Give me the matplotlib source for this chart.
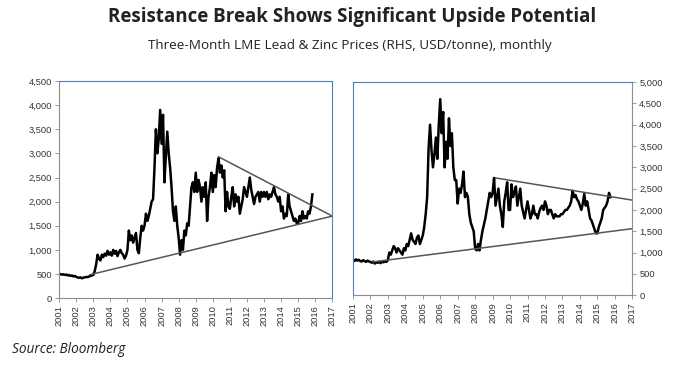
import numpy as np
import matplotlib.pyplot as plt

# monthly values, Jan 2001 onwards (chart x coordinates)
lead = [
    490, 500, 485, 495, 480, 490, 470, 480, 460, 470, 450, 460,          # 2001
    440, 430, 420, 430, 410, 425, 430, 440, 435, 450, 460, 470,          # 2002
    480, 560, 700, 900, 820, 780, 900, 850, 920, 880, 980, 900,          # 2003
    950, 880, 1000, 920, 980, 870, 950, 1000, 930, 900, 820, 880,        # 2004
    1000, 1400, 1200, 1300, 1150, 1250, 1350, 1000, 930, 1250, 1500, 1400,  # 2005
    1500, 1750, 1600, 1700, 1850, 2000, 2050, 2700, 3500, 3000, 3300, 3900,  # 2006
    3200, 3800, 2400, 2950, 3450, 3000, 2700, 2300, 1800, 1600, 1900, 1500,  # 2007
    1250, 900, 1200, 1000, 1400, 1300, 1550, 1500, 1900, 2300, 2400, 2200,   # 2008
    2600, 2200, 2450, 2300, 2000, 2300, 2100, 2400, 1600, 2100, 2300, 2600,  # 2009
    2200, 2550, 2300, 2700, 2900, 2600, 2750, 2500, 2650, 1800, 2200, 1900,  # 2010
    1850, 2100, 2300, 1900, 2150, 2000, 2100, 1750, 1900, 2050, 2300, 2200,  # 2011
    2100, 2300, 2500, 2250, 2100, 1950, 2100, 2150, 2200, 2000, 2200, 2100,  # 2012
    2200, 2100, 2200, 2050, 2150, 2100, 2200, 2300, 2150, 2100, 2000, 2100,  # 2013
    1800, 1900, 1650, 1750, 1700, 2150, 1900, 1800, 1700, 1600, 1650, 1550,  # 2014
    1550, 1700, 1600, 1800, 1650, 1700, 1650, 1800, 1750, 1900, 2150,        # 2015
]

zinc = [
    820, 800, 840, 810, 830, 800, 790, 820, 800, 780, 810, 790,          # 2001
    780, 760, 790, 740, 770, 760, 780, 750, 790, 770, 800, 780,          # 2002
    820, 1000, 950, 1050, 1150, 1100, 1000, 1100, 1050, 1000, 950, 1100,  # 2003
    1050, 1200, 1150, 1300, 1450, 1300, 1250, 1200, 1350, 1400, 1200, 1300,  # 2004
    1400, 1600, 1900, 2300, 3450, 4000, 3400, 3000, 3300, 3700, 3200, 4000,  # 2005
    4600, 3800, 4300, 3000, 3600, 3200, 4150, 3500, 3800, 3000, 2700, 2700,  # 2006
    2150, 2500, 2400, 2600, 2900, 2300, 2400, 2300, 1900, 1700, 1600, 1500,  # 2007
    1100, 1050, 1200, 1050, 1300, 1500, 1650, 1800, 2000, 2200, 2400, 2300,  # 2008
    2400, 2750, 2100, 2300, 2500, 2100, 1900, 1600, 2200, 2400, 2650, 2000,  # 2009
    2000, 2600, 2300, 2400, 2550, 2100, 2300, 2500, 2100, 1950, 1800, 2000,  # 2010
    2200, 2000, 1800, 1900, 2100, 1900, 1900, 1800, 1950, 2050, 2100, 2000,  # 2011
    2200, 2100, 1900, 2000, 2000, 1900, 1800, 1900, 1850, 1850, 1850, 1900,  # 2012
    1900, 1950, 2000, 2000, 2050, 2100, 2200, 2450, 2300, 2350, 2250, 2200,  # 2013
    2100, 2000, 2150, 2380, 2100, 2200, 2000, 1800, 1750, 1650, 1550, 1450,  # 2014
    1450, 1600, 1700, 1800, 2000, 2050, 2100, 2200, 2400, 2300,              # 2015
]

# trend lines: (start year, start value, end year, end value)
lead_res = ([2010.33, 2017.0], [2930, 1700])
lead_sup = ([2002.8, 2017.0], [485, 1700])
zinc_res = ([2009.18, 2017.0], [2750, 2230])
zinc_sup = ([2002.15, 2017.0], [780, 1560])

years = list(range(2001, 2018))
blue = '#4f81bd'
grey = '#8c8c8c'

fig = plt.figure(figsize=(6.88, 3.75), dpi=100)
ax1 = fig.add_axes([0.086, 0.205, 0.397, 0.579])
ax2 = fig.add_axes([0.513, 0.213, 0.406, 0.568])


def draw(ax, vals, res, sup, ymax, side):
    x = 2001 + np.arange(len(vals)) / 12.0
    ax.plot(x, vals, color='black', lw=1.8)
    ax.plot(res[0], res[1], color='#555555', lw=1.1)
    ax.plot(sup[0], sup[1], color='#555555', lw=1.1)
    ax.set_xlim(2001, 2017)
    ax.set_ylim(0, ymax)
    ax.set_xticks(years)
    ax.set_xticklabels([str(y) for y in years], rotation=90, fontsize=6.7,
                       color='#333333', family='Liberation Sans')
    ax.set_yticks(np.arange(0, ymax + 1, 500))
    ax.set_yticklabels(['{:,}'.format(v) for v in range(0, ymax + 1, 500)],
                       fontsize=6.7, color='#333333', family='Liberation Sans')
    ax.tick_params(length=3, width=0.6, color=grey, pad=2)
    for s in ax.spines.values():
        s.set_linewidth(0.8)
    if side == 'left':
        ax.spines['left'].set_color(grey)
        ax.spines['bottom'].set_color(grey)
        ax.spines['top'].set_color(blue)
        ax.spines['right'].set_color(blue)
    else:
        ax.yaxis.tick_right()
        ax.spines['right'].set_color(grey)
        ax.spines['bottom'].set_color(grey)
        ax.spines['top'].set_color(blue)
        ax.spines['left'].set_color(blue)


draw(ax1, lead, lead_res, lead_sup, 4500, 'left')
draw(ax2, zinc, zinc_res, zinc_sup, 5000, 'right')

fig.text(0.512, 0.955, 'Resistance Break Shows Significant Upside Potential',
         ha='center', va='center', fontsize=13.5, fontweight='bold',
         family='Open Sans', color='#222222')
fig.text(0.509, 0.88, 'Three-Month LME Lead & Zinc Prices (RHS, USD/tonne), monthly',
         ha='center', va='center', fontsize=9.7, family='Open Sans', color='#222222')
fig.text(0.017, 0.067, 'Source: Bloomberg', ha='left', va='center', fontsize=9.8,
         style='italic', family='Open Sans', color='#222222')

fig.savefig('out.png', dpi=100)
